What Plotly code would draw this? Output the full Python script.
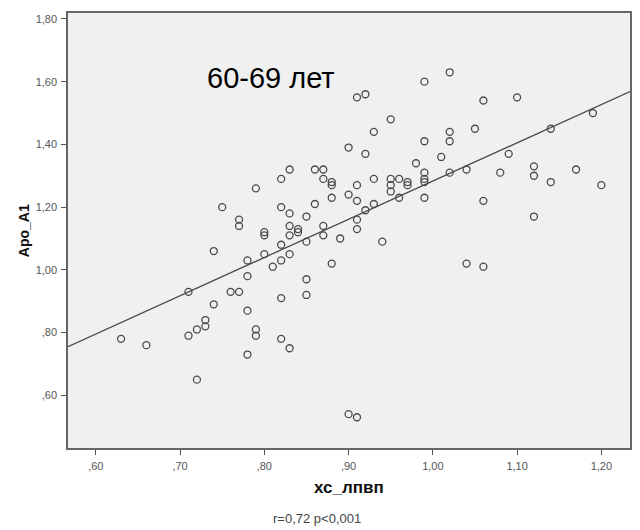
import numpy as np
import plotly.graph_objects as go

# Data
hdl_chol = [0.63, 0.66, 0.71, 0.71, 0.72, 0.72, 0.73, 0.73, 0.74, 0.74,
            0.75, 0.76, 0.77, 0.77, 0.77, 0.78, 0.78, 0.78, 0.78, 0.79,
            0.79, 0.79, 0.80, 0.80, 0.80, 0.81, 0.82, 0.82, 0.82, 0.82,
            0.82, 0.82, 0.83, 0.83, 0.83, 0.83, 0.83, 0.83, 0.84, 0.84,
            0.85, 0.85, 0.85, 0.85, 0.86, 0.86, 0.87, 0.87, 0.87, 0.87,
            0.88, 0.88, 0.88, 0.88, 0.89, 0.90, 0.90, 0.90, 0.91, 0.91,
            0.91, 0.91, 0.91, 0.91, 0.92, 0.92, 0.92, 0.93, 0.93, 0.93,
            0.94, 0.95, 0.95, 0.95, 0.95, 0.96, 0.96, 0.97, 0.97, 0.98,
            0.99, 0.99, 0.99, 0.99, 0.99, 0.99, 1.01, 1.02, 1.02, 1.02,
            1.02, 1.04, 1.04, 1.05, 1.06, 1.06, 1.06, 1.08, 1.09, 1.10,
            1.12, 1.12, 1.12, 1.14, 1.14, 1.17, 1.19, 1.20]
apo_a1 = [0.78, 0.76, 0.93, 0.79, 0.81, 0.65, 0.84, 0.82, 1.06, 0.89,
          1.20, 0.93, 0.93, 1.16, 1.14, 1.03, 0.98, 0.87, 0.73, 1.26,
          0.81, 0.79, 1.12, 1.11, 1.05, 1.01, 1.29, 1.20, 1.08, 1.03,
          0.91, 0.78, 1.32, 1.18, 1.14, 1.11, 1.05, 0.75, 1.13, 1.12,
          1.17, 1.09, 0.97, 0.92, 1.32, 1.21, 1.32, 1.29, 1.14, 1.11,
          1.28, 1.27, 1.23, 1.02, 1.10, 1.39, 1.24, 0.54, 1.55, 1.27,
          1.22, 1.16, 1.13, 0.53, 1.56, 1.37, 1.19, 1.44, 1.29, 1.21,
          1.09, 1.48, 1.29, 1.27, 1.25, 1.29, 1.23, 1.28, 1.27, 1.34,
          1.60, 1.41, 1.31, 1.29, 1.28, 1.23, 1.36, 1.63, 1.44, 1.41,
          1.31, 1.32, 1.02, 1.45, 1.54, 1.22, 1.01, 1.31, 1.37, 1.55,
          1.33, 1.30, 1.17, 1.45, 1.28, 1.32, 1.50, 1.27]

x_ticks = [0.60, 0.70, 0.80, 0.90, 1.00, 1.10, 1.20]
x_tick_labels = [",60", ",70", ",80", ",90", "1,00", "1,10", "1,20"]
y_ticks = [0.60, 0.80, 1.00, 1.20, 1.40, 1.60, 1.80]
y_tick_labels = [",60", ",80", "1,00", "1,20", "1,40", "1,60", "1,80"]

x_range = [0.567, 1.234]
y_range = [0.432, 1.819]

# Linear fit line across the x range
slope, intercept = np.polyfit(hdl_chol, apo_a1, 1)
fit_x = np.array(x_range)
fit_y = slope * fit_x + intercept

NARROW = "Liberation Sans Narrow, Arial Narrow, Liberation Sans, Arial, sans-serif"
SANS = "Liberation Sans, Arial, sans-serif"

fig = go.Figure()
fig.add_trace(go.Scatter(
    x=fit_x, y=fit_y, mode="lines",
    line=dict(color="#4a4a4a", width=1.3),
    hoverinfo="skip", showlegend=False))
fig.add_trace(go.Scatter(
    x=hdl_chol, y=apo_a1, mode="markers",
    marker=dict(symbol="circle-open", size=7,
                line=dict(color="#4a4a4a", width=1.3), color="#4a4a4a"),
    showlegend=False))

axis_common = dict(showgrid=False, zeroline=False,
                   showline=True, mirror=True, linecolor="#666666", linewidth=1.5,
                   ticks="outside", ticklen=5, tickcolor="#555555", tickwidth=1,
                   ticklabelstandoff=2,
                   tickfont=dict(family=NARROW, size=11, color="#555555"))

fig.update_layout(
    width=640, height=530,
    margin=dict(l=68, r=8, t=13, b=82),
    paper_bgcolor="white",
    plot_bgcolor="#f0f0f0",
    font=dict(family=SANS, color="#333333"),
    xaxis=dict(range=x_range, tickvals=x_ticks, ticktext=x_tick_labels, **axis_common),
    yaxis=dict(range=y_range, tickvals=y_ticks, ticktext=y_tick_labels, **axis_common),
    annotations=[
        dict(text="60-69 лет", x=0.362, y=0.851, xref="paper", yref="paper",
             showarrow=False, xanchor="center", yanchor="middle",
             font=dict(family=SANS, size=29, color="black")),
        dict(text="<b>хс_лпвп</b>", x=0.5, y=(448 - 487) / 435,
             xref="paper", yref="paper", showarrow=False,
             xanchor="center", yanchor="middle",
             font=dict(family=SANS, size=17, color="#111111")),
        dict(text="<b>Apo_A1</b>", x=(24 - 68) / 564, y=(448 - 231) / 435,
             xref="paper", yref="paper", showarrow=False, textangle=-90,
             xanchor="center", yanchor="middle",
             font=dict(family=SANS, size=14, color="#111111")),
        dict(text="r=0,72 p<0,001", x=(318 - 68) / 564, y=(448 - 518) / 435,
             xref="paper", yref="paper", showarrow=False,
             xanchor="center", yanchor="middle",
             font=dict(family=NARROW, size=13, color="#444444")),
    ],
)

fig.write_html("out.html")
